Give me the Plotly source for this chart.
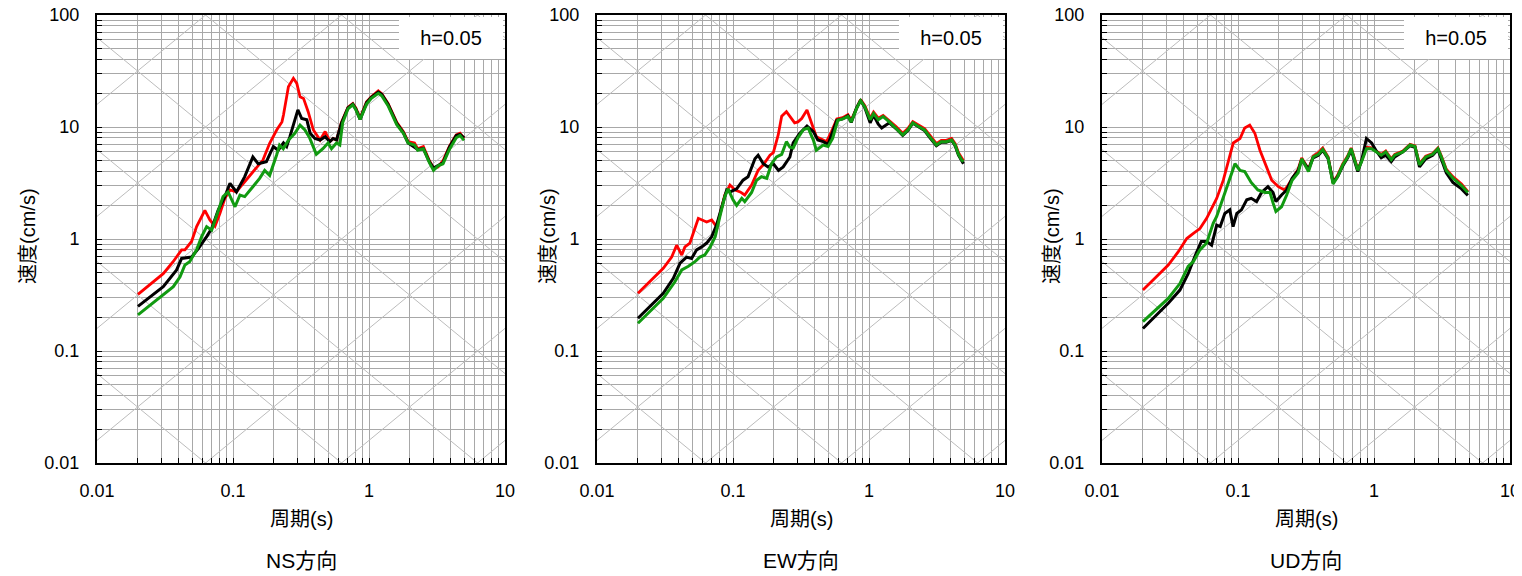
import math
import plotly.graph_objects as go

# ---------------- data (period s, velocity cm/s) ----------------
# NS direction
ns_red_T = [0.02, 0.0307, 0.0364, 0.0419, 0.0443, 0.0496, 0.054, 0.0621, 0.0676, 0.0737, 0.0801, 0.0872,
            0.095, 0.106, 0.116, 0.14, 0.166, 0.186, 0.2095, 0.229, 0.235, 0.2555, 0.278, 0.2945, 0.311,
            0.33, 0.357, 0.39, 0.437, 0.476, 0.515, 0.545, 0.577, 0.627, 0.70, 0.76, 0.80, 0.86, 0.96,
            1.04, 1.17, 1.24, 1.38, 1.60, 1.79, 1.94, 2.16, 2.28, 2.51, 2.78, 2.98, 3.22, 3.5, 3.9,
            4.38, 4.67, 5.0]
ns_red_V = [0.32, 0.49, 0.63, 0.80, 0.80, 0.95, 1.29, 1.80, 1.48, 1.30, 1.69, 2.31,
            2.74, 2.63, 3.02, 4.0, 5.07, 7.15, 9.4, 11.1, 12.8, 22.9, 27.2, 24.5, 18.6,
            18.0, 13.7, 9.4, 7.65, 9.1, 7.4, 7.9, 7.65, 11.0, 15.0, 16.2, 14.8, 12.0, 16.8,
            18.6, 21.0, 19.8, 16.2, 11.0, 9.1, 7.4, 7.2, 6.4, 6.7, 5.0, 4.3, 4.4, 5.0, 6.7,
            8.5, 8.8, 7.9]

ns_blk_T = [0.02, 0.0307, 0.0385, 0.0419, 0.0496, 0.0556, 0.064, 0.0697, 0.078, 0.0872, 0.095, 0.106,
            0.122, 0.14, 0.153, 0.176, 0.198, 0.215, 0.235, 0.248, 0.262, 0.278, 0.30, 0.32, 0.349,
            0.369, 0.40, 0.437, 0.476, 0.515, 0.545, 0.577, 0.627, 0.70, 0.76, 0.80, 0.86, 0.96,
            1.04, 1.17, 1.24, 1.38, 1.60, 1.79, 1.94, 2.16, 2.28, 2.51, 2.78, 2.98, 3.22, 3.5, 3.9,
            4.38, 4.67, 5.0]
ns_blk_V = [0.25, 0.375, 0.53, 0.67, 0.69, 0.82, 1.05, 1.24, 1.82, 2.39, 3.14, 2.63,
            3.6, 5.4, 4.7, 4.9, 6.7, 6.2, 7.2, 6.7, 8.2, 10.4, 14.2, 11.9, 11.6,
            8.8, 7.9, 7.65, 8.2, 7.4, 7.9, 7.65, 10.8, 14.8, 16.0, 14.5, 11.7, 16.5,
            18.4, 20.5, 19.6, 16.0, 10.8, 8.9, 7.2, 6.6, 6.3, 6.4, 4.9, 4.3, 4.5, 4.8, 6.6,
            8.4, 8.6, 8.0]

ns_grn_T = [0.02, 0.0275, 0.0364, 0.0408, 0.0443, 0.048, 0.054, 0.0588, 0.064, 0.0697, 0.0757, 0.0845,
            0.092, 0.1035, 0.1125, 0.122, 0.14, 0.157, 0.171, 0.186, 0.209, 0.22, 0.234, 0.255,
            0.285, 0.311, 0.338, 0.366, 0.41, 0.458, 0.50, 0.53, 0.577, 0.61, 0.64, 0.70, 0.76, 0.80,
            0.86, 0.96, 1.04, 1.17, 1.24, 1.38, 1.60, 1.79, 1.94, 2.16, 2.28, 2.51, 2.78, 2.98, 3.22,
            3.5, 3.9, 4.38, 4.67, 5.0]
ns_grn_V = [0.21, 0.285, 0.375, 0.46, 0.586, 0.627, 0.80, 1.05, 1.29, 1.2, 1.64, 2.39,
            2.63, 1.94, 2.47, 2.39, 2.93, 3.48, 4.1, 3.7, 5.6, 6.9, 6.4, 7.6,
            8.8, 10.4, 9.4, 8.0, 5.7, 6.4, 7.2, 6.4, 7.2, 6.9, 10.9, 14.5, 15.8, 14.3,
            11.7, 16.0, 18.0, 20.0, 19.0, 15.5, 10.5, 8.8, 7.2, 6.9, 6.2, 6.4, 4.8, 4.1, 4.5,
            4.7, 6.3, 8.0, 8.4, 7.6]

# EW direction
ew_red_T = [0.02, 0.0245, 0.0307, 0.0354, 0.0385, 0.042, 0.0443, 0.0482, 0.0525, 0.0556, 0.064, 0.0697,
            0.0757, 0.0801, 0.087, 0.095, 0.1035, 0.113, 0.122, 0.137, 0.153, 0.167, 0.187, 0.198,
            0.215, 0.228, 0.247, 0.284, 0.30, 0.32, 0.35, 0.378, 0.41, 0.46, 0.487, 0.53, 0.58,
            0.64, 0.70, 0.74, 0.81, 0.867, 0.93, 1.02, 1.08, 1.17, 1.27, 1.41, 1.58, 1.77, 1.93,
            2.1, 2.28, 2.56, 2.79, 3.13, 3.4, 3.7, 4.05, 4.3, 4.55, 4.8, 4.95]
ew_red_V = [0.327, 0.415, 0.547, 0.69, 0.88, 0.72, 0.85, 0.92, 1.24, 1.53, 1.42, 1.48,
            1.29, 1.64, 2.47, 3.03, 2.74, 2.63, 2.47, 3.03, 4.1, 4.6, 5.6, 5.9,
            8.5, 12.5, 13.7, 10.9, 11.1, 11.9, 14.2, 11.1, 8.2, 7.65, 7.4, 9.1, 11.8,
            12.1, 12.9, 11.5, 15.0, 17.6, 15.6, 12.0, 13.6, 12.0, 12.7, 11.4, 10.1, 8.8, 9.7,
            11.2, 10.5, 9.7, 8.5, 7.1, 7.6, 7.6, 7.9, 7.1, 5.9, 5.2, 5.0]

ew_blk_T = [0.02, 0.0245, 0.0307, 0.0364, 0.0408, 0.0456, 0.0496, 0.054, 0.0588, 0.064, 0.0697, 0.0757,
            0.0825, 0.0898, 0.095, 0.1064, 0.1185, 0.129, 0.145, 0.153, 0.167, 0.181, 0.198, 0.216,
            0.234, 0.262, 0.277, 0.31, 0.35, 0.39, 0.42, 0.46, 0.50, 0.53, 0.58, 0.64, 0.70, 0.74,
            0.81, 0.867, 0.93, 1.02, 1.08, 1.17, 1.24, 1.41, 1.58, 1.77, 1.93, 2.1, 2.28, 2.56,
            2.79, 3.13, 3.4, 3.7, 4.05, 4.3, 4.55, 4.8, 4.95]
ew_blk_V = [0.196, 0.249, 0.327, 0.445, 0.61, 0.69, 0.67, 0.80, 0.85, 0.92, 1.05, 1.33,
            1.94, 2.74, 2.63, 2.8, 3.35, 3.6, 5.2, 5.6, 4.7, 4.4, 4.7, 4.1,
            4.4, 5.4, 7.2, 8.8, 10.2, 9.1, 7.65, 7.4, 7.0, 8.6, 11.5, 11.8, 12.6, 11.0,
            14.8, 17.3, 15.0, 10.9, 12.8, 10.6, 9.8, 10.9, 9.7, 8.4, 9.3, 10.8, 10.2, 9.3,
            8.1, 6.8, 7.3, 7.3, 7.6, 6.8, 5.6, 4.9, 4.7]

ew_grn_T = [0.02, 0.0245, 0.0307, 0.0374, 0.042, 0.047, 0.0525, 0.057, 0.062, 0.068, 0.074, 0.0801,
            0.087, 0.092, 0.100, 0.1064, 0.116, 0.122, 0.137, 0.149, 0.162, 0.177, 0.192, 0.209,
            0.228, 0.247, 0.262, 0.277, 0.30, 0.33, 0.357, 0.39, 0.41, 0.46, 0.50, 0.54, 0.59,
            0.64, 0.70, 0.74, 0.81, 0.867, 0.93, 1.02, 1.08, 1.17, 1.27, 1.41, 1.58, 1.77, 1.93,
            2.1, 2.28, 2.56, 2.79, 3.13, 3.4, 3.7, 4.05, 4.3, 4.55, 4.8, 4.95]
ew_grn_V = [0.177, 0.224, 0.295, 0.415, 0.53, 0.57, 0.627, 0.69, 0.72, 0.85, 1.05, 1.59,
            2.39, 2.8, 2.24, 2.0, 2.31, 2.16, 2.6, 3.35, 3.6, 3.48, 4.7, 5.4,
            5.7, 7.4, 6.6, 6.5, 8.0, 9.5, 9.8, 7.65, 6.2, 6.9, 6.7, 7.9, 11.5,
            11.8, 12.4, 11.1, 14.6, 17.2, 15.2, 11.6, 13.2, 11.6, 12.4, 11.1, 9.8, 8.5, 9.4,
            10.9, 10.2, 9.4, 8.2, 6.9, 7.4, 7.4, 7.65, 6.9, 5.7, 5.07, 4.9]

# UD direction
ud_red_T = [0.02, 0.0245, 0.0307, 0.0364, 0.042, 0.047, 0.0525, 0.0588, 0.0657, 0.0697, 0.078, 0.0872,
            0.0923, 0.1035, 0.112, 0.122, 0.133, 0.145, 0.162, 0.177, 0.198, 0.22, 0.234, 0.254,
            0.277, 0.294, 0.33, 0.357, 0.39, 0.42, 0.46, 0.50, 0.54, 0.59, 0.64, 0.68, 0.72, 0.76,
            0.81, 0.88, 0.96, 1.04, 1.13, 1.22, 1.34, 1.42, 1.63, 1.84, 2.0, 2.16, 2.4, 2.7, 2.95,
            3.13, 3.4, 3.8, 4.4, 4.9]
ud_red_V = [0.35, 0.445, 0.586, 0.77, 1.01, 1.12, 1.24, 1.53, 2.0, 2.3, 3.35, 5.4,
            7.2, 7.9, 9.8, 10.4, 8.8, 6.2, 4.4, 3.35, 2.93, 2.74, 3.03, 3.6,
            4.2, 5.3, 4.2, 5.5, 5.9, 6.5, 5.4, 3.2, 3.7, 4.7, 5.5, 6.5, 5.2, 4.2,
            5.0, 6.6, 6.5, 6.1, 5.7, 6.1, 5.2, 5.7, 6.1, 7.0, 6.8, 4.7, 5.5, 5.8, 6.5,
            5.5, 4.2, 3.6, 3.1, 2.65]

ud_blk_T = [0.02, 0.0245, 0.0307, 0.0374, 0.043, 0.048, 0.0537, 0.0588, 0.064, 0.0697, 0.074, 0.08,
            0.087, 0.092, 0.098, 0.106, 0.116, 0.125, 0.137, 0.149, 0.166, 0.181, 0.19, 0.209,
            0.228, 0.25, 0.277, 0.294, 0.33, 0.357, 0.39, 0.42, 0.46, 0.50, 0.54, 0.59, 0.64, 0.68,
            0.72, 0.76, 0.81, 0.88, 0.96, 1.04, 1.13, 1.22, 1.34, 1.42, 1.63, 1.84, 2.0, 2.16, 2.4,
            2.7, 2.95, 3.13, 3.4, 3.8, 4.4, 4.9]
ud_blk_V = [0.159, 0.203, 0.267, 0.35, 0.49, 0.69, 0.95, 0.95, 0.88, 1.33, 1.29, 1.69,
            1.82, 1.29, 1.69, 1.82, 2.24, 2.31, 2.16, 2.6, 2.93, 2.6, 2.16, 2.47,
            2.74, 3.48, 4.1, 5.1, 4.2, 5.3, 5.6, 6.2, 5.2, 3.2, 3.6, 4.5, 5.3, 6.2,
            5.0, 4.0, 5.0, 7.9, 7.2, 6.1, 5.3, 5.6, 4.9, 5.4, 6.0, 6.8, 6.6, 4.4, 5.2,
            5.6, 6.3, 5.2, 3.9, 3.2, 2.8, 2.45]

ud_grn_T = [0.02, 0.0245, 0.0307, 0.0374, 0.043, 0.047, 0.0525, 0.0588, 0.0657, 0.0697, 0.078, 0.0872,
            0.095, 0.1035, 0.112, 0.125, 0.14, 0.158, 0.172, 0.181, 0.19, 0.209, 0.228, 0.25,
            0.277, 0.294, 0.33, 0.357, 0.39, 0.42, 0.46, 0.50, 0.54, 0.59, 0.64, 0.68, 0.72, 0.76,
            0.81, 0.88, 0.96, 1.04, 1.13, 1.22, 1.34, 1.42, 1.63, 1.84, 2.0, 2.16, 2.4, 2.7, 2.95,
            3.13, 3.4, 3.8, 4.4, 4.9]
ud_grn_V = [0.183, 0.23, 0.295, 0.40, 0.57, 0.63, 0.80, 0.92, 1.38, 1.59, 2.39, 3.6,
            4.7, 4.1, 4.0, 3.2, 2.74, 2.6, 2.6, 2.1, 1.76, 1.94, 2.47, 3.35,
            3.9, 5.2, 4.0, 5.4, 5.7, 6.3, 5.3, 3.1, 3.6, 4.6, 5.4, 6.4, 5.1, 4.1,
            4.9, 6.4, 6.4, 6.0, 5.6, 6.0, 5.1, 5.6, 6.0, 6.9, 6.7, 4.6, 5.4, 5.7, 6.4,
            5.4, 4.1, 3.5, 3.0, 2.6]

panel_titles = ["NS方向", "EW方向", "UD方向"]
x_title = "周期(s)"
y_title = "速度(cm/s)"
damping_label = "h=0.05"
x_decades = [0.01, 0.1, 1, 10]
y_decades = [0.01, 0.1, 1, 10, 100]

# ---------------- styling ----------------
# the page body adds an 8px margin, so the figure is drawn 8px smaller and
# every page position below is converted with OFF
OFF = 8
W, H = 1522 - OFF, 576 - OFF
FONT = "Liberation Sans, Arial, Noto Sans CJK JP, sans-serif"
RED, BLACK, GREEN = "#ff0000", "#000000", "#119a11"
GRID = "#a8a8a8"
DIAG = "#bcbcbc"

panels = [
    [(ns_red_T, ns_red_V, RED), (ns_blk_T, ns_blk_V, BLACK), (ns_grn_T, ns_grn_V, GREEN)],
    [(ew_red_T, ew_red_V, RED), (ew_blk_T, ew_blk_V, BLACK), (ew_grn_T, ew_grn_V, GREEN)],
    [(ud_red_T, ud_red_V, RED), (ud_blk_T, ud_blk_V, BLACK), (ud_grn_T, ud_grn_V, GREEN)],
]

plot_left_px = [97, 597, 1102]   # page pixels
plot_w_px = 408
top_px, bot_px = 15, 463
ytitle_px = [28, 548, 1052]


def px_x(p):
    return (p - OFF) / W


def px_y(p):
    return 1 - (p - OFF) / H


def fmt(v):
    return ("%g" % v)


def all_ticks(decades):
    vals, txt = [], []
    for d in decades[:-1]:
        for m in range(1, 10):
            vals.append(m * d)
            txt.append(fmt(d) if m == 1 else "")
    vals.append(decades[-1])
    txt.append(fmt(decades[-1]))
    return vals, txt


xt_vals, xt_text = all_ticks(x_decades)
yt_vals, yt_text = all_ticks(y_decades)

fig = go.Figure()
layout = dict(width=W, height=H, margin=dict(l=0, r=0, t=0, b=0, pad=0, autoexpand=False),
              paper_bgcolor="white", plot_bgcolor="white", showlegend=False,
              font=dict(family=FONT, color="black"))
annotations = []

for i, series in enumerate(panels):
    sfx = "" if i == 0 else str(i + 1)
    xa, ya = "x" + sfx, "y" + sfx
    x0 = px_x(plot_left_px[i])
    x1 = px_x(plot_left_px[i] + plot_w_px)
    layout["xaxis" + sfx] = dict(
        type="log", range=[math.log10(x_decades[0]), math.log10(x_decades[-1])],
        domain=[x0, x1], anchor=ya, tickmode="array", tickvals=xt_vals, ticktext=xt_text,
        ticks="inside", ticklen=5, tickcolor="black", tickwidth=1, automargin=False,
        ticklabeloverflow="allow",
        showgrid=True, gridcolor=GRID, gridwidth=1.4, zeroline=False,
        showline=True, linecolor="black", linewidth=2, mirror=True,
        tickfont=dict(size=18, family=FONT, color="black"), ticklabelstandoff=10)
    layout["yaxis" + sfx] = dict(
        type="log", range=[math.log10(y_decades[0]), math.log10(y_decades[-1])],
        domain=[px_y(bot_px), px_y(top_px)], anchor=xa, tickmode="array",
        tickvals=yt_vals, ticktext=yt_text, automargin=False,
        ticklabeloverflow="allow",
        ticks="inside", ticklen=5, tickcolor="black", tickwidth=1,
        showgrid=True, gridcolor=GRID, gridwidth=1.4, zeroline=False,
        showline=True, linecolor="black", linewidth=2, mirror=True,
        tickfont=dict(size=18, family=FONT, color="black"), ticklabelstandoff=12)

    # tripartite guide lines (constant acceleration / displacement)
    tt = [x_decades[0], x_decades[-1]]
    for k in range(-4, 7):
        A = 10.0 ** k
        fig.add_trace(go.Scatter(x=tt, y=[A * t / (2 * math.pi) for t in tt], mode="lines",
                                 line=dict(color=DIAG, width=1), hoverinfo="skip",
                                 xaxis=xa, yaxis=ya))
    for k in range(-6, 5):
        D = 10.0 ** k
        fig.add_trace(go.Scatter(x=tt, y=[2 * math.pi * D / t for t in tt], mode="lines",
                                 line=dict(color=DIAG, width=1), hoverinfo="skip",
                                 xaxis=xa, yaxis=ya))

    for (T, V, col) in series:
        fig.add_trace(go.Scatter(x=T, y=V, mode="lines",
                                 line=dict(color=col, width=3 if col != RED else 2.8),
                                 xaxis=xa, yaxis=ya))

    cx = px_x(plot_left_px[i] + plot_w_px / 2)
    annotations.append(dict(text=x_title, xref="paper", yref="paper", x=cx, y=px_y(519),
                            xanchor="center", yanchor="middle", showarrow=False,
                            font=dict(size=20, family=FONT)))
    annotations.append(dict(text=panel_titles[i], xref="paper", yref="paper", x=cx, y=px_y(560),
                            xanchor="center", yanchor="middle", showarrow=False,
                            font=dict(size=21, family=FONT)))
    annotations.append(dict(text=y_title, xref="paper", yref="paper", x=px_x(ytitle_px[i]),
                            y=px_y(236), xanchor="center", yanchor="middle", textangle=-90,
                            showarrow=False, font=dict(size=20, family=FONT)))
    annotations.append(dict(text=damping_label, xref=xa + " domain", yref=ya + " domain",
                            x=1, y=1, xanchor="right", yanchor="top", xshift=-2, yshift=-2,
                            width=104, height=42, align="center", valign="middle",
                            bgcolor="white", borderwidth=0, borderpad=0, showarrow=False,
                            font=dict(size=20, family=FONT)))

layout["annotations"] = annotations
fig.update_layout(**layout)
fig.write_html("out.html")
